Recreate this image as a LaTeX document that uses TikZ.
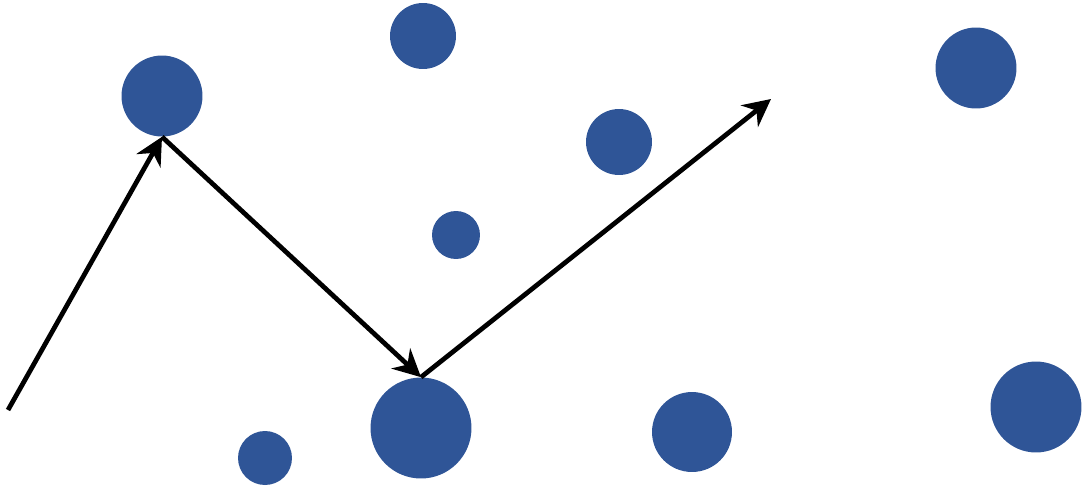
\documentclass[tikz,border=0pt]{standalone}
\usetikzlibrary{arrows.meta}
\definecolor{dotblue}{HTML}{2F5597}
\tikzset{
    dot/.style={circle, fill=dotblue, inner sep=0pt, minimum size=#1*0.04cm},
    path/.style={line width=2.7pt, -{Stealth[length=5.5mm, width=5.5mm, inset=1.8mm]}}
}
\begin{document}
\begin{tikzpicture}[x=0.02cm, y=-0.02cm]
    \useasboundingbox (0,0) rectangle (1082,491);

    % Dots
    \node[dot=40.5] (d1) at (162,96) {};
    \node[dot=33] (d2) at (423,36) {};
    \node[dot=33] (d3) at (619,142) {};
    \node[dot=24] (d4) at (456,235) {};
    \node[dot=40.5] (d5) at (976,68) {};
    \node[dot=27] (d6) at (265,458) {};
    \node[dot=50.5] (d7) at (421,428) {};
    \node[dot=40] (d8) at (692,432) {};
    \node[dot=45.5] (d9) at (1036,407) {};

    % Path
    \coordinate (start) at (8,410);
    \coordinate (finish) at (771,99);
    \draw[path] (start) -- (d1.south);
    \draw[path] (d1.south) -- (d7.north);
    \draw[path] (d7.north) -- (finish);

\end{tikzpicture}
\end{document}
